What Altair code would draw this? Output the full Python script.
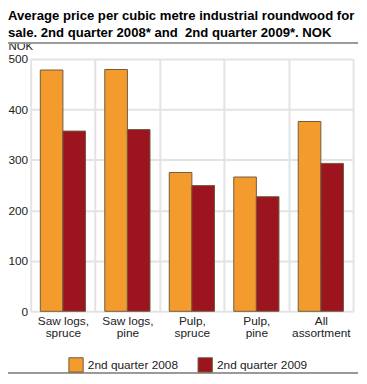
import altair as alt
import pandas as pd

categories = ["Saw logs,\nspruce", "Saw logs,\npine", "Pulp,\nspruce", "Pulp,\npine", "All\nassortment"]
series = ["2nd quarter 2008", "2nd quarter 2009"]
values_2008 = [478, 479, 275, 266, 376]
values_2009 = [357, 360, 249, 227, 293]
y_ticks = [0, 100, 200, 300, 400, 500]
title_lines = [
    "Average price per cubic metre industrial roundwood for",
    "sale. 2nd quarter 2008* and \u00a02nd quarter 2009*. NOK",
]
colors = ["#f39c2d", "#9c141e"]

rows = []
for c, a, b in zip(categories, values_2008, values_2009):
    rows.append({"category": c, "series": series[0], "value": a})
    rows.append({"category": c, "series": series[1], "value": b})
df = pd.DataFrame(rows)

FONT = "Liberation Sans"
GRID = "#e3e3e3"

bars = alt.Chart(df).mark_bar(stroke="#6e5a40", strokeWidth=1).encode(
    x=alt.X(
        "category:N", sort=categories,
        scale=alt.Scale(paddingInner=0, paddingOuter=0),
        axis=alt.Axis(
            title=None, labelExpr="split(datum.label, '\\n')", labelAngle=0,
            tickBand="extent", ticks=False, domain=False, grid=True,
            gridColor=GRID, gridWidth=2, labelFontSize=12, labelLineHeight=13,
            labelPadding=4, labelColor="#222", labelFont=FONT,
        ),
    ),
    xOffset=alt.XOffset("series:N", sort=series,
                        scale=alt.Scale(paddingOuter=0.426, paddingInner=0)),
    y=alt.Y(
        "value:Q", scale=alt.Scale(domain=[0, 500]),
        axis=alt.Axis(
            values=y_ticks, title="NOK", titleAngle=0, titleAlign="left",
            titleBaseline="alphabetic", titleX=-23, titleY=-10,
            titleFontWeight="normal", titleFontSize=11.5, titleFont=FONT,
            titleColor="#222", ticks=False, domain=False, gridColor=GRID,
            gridWidth=2, labelFontSize=12, labelPadding=3, labelColor="#222",
            labelFont=FONT,
        ),
    ),
    color=alt.Color(
        "series:N", sort=series,
        scale=alt.Scale(domain=series, range=colors),
        legend=alt.Legend(
            title=None, orient="none", legendX=38, legendY=302,
            direction="horizontal", symbolType="square", symbolSize=210,
            symbolStrokeColor="#6e5a40", symbolStrokeWidth=1, labelFontSize=12,
            labelFont=FONT, labelColor="#222", labelOffset=4, columnPadding=17,
        ),
    ),
)

top_rule = alt.Chart(df).mark_rule(color="#999999", strokeWidth=1.5).encode(
    x=alt.value(-23), x2=alt.value(332), y=alt.value(-16.5)
)
bottom_rule = alt.Chart(df).mark_rule(color="#999999", strokeWidth=1).encode(
    x=alt.value(-23), x2=alt.value(332), y=alt.value(318.5)
)

chart = alt.layer(bars, top_rule, bottom_rule).properties(
    width=327, height=256,
    autosize=alt.AutoSizeParams(type="none"),
    padding={"left": 23, "top": 49, "right": 6, "bottom": 63},
    title=alt.TitleParams(
        text=title_lines, anchor="start", frame="group", dx=-23, dy=7,
        fontSize=13.3, fontWeight="bold", font=FONT, color="#000",
        lineHeight=17, offset=8,
    ),
).configure_view(stroke=None)

chart.save("out.html", embed_options={"renderer": "svg", "actions": False})
